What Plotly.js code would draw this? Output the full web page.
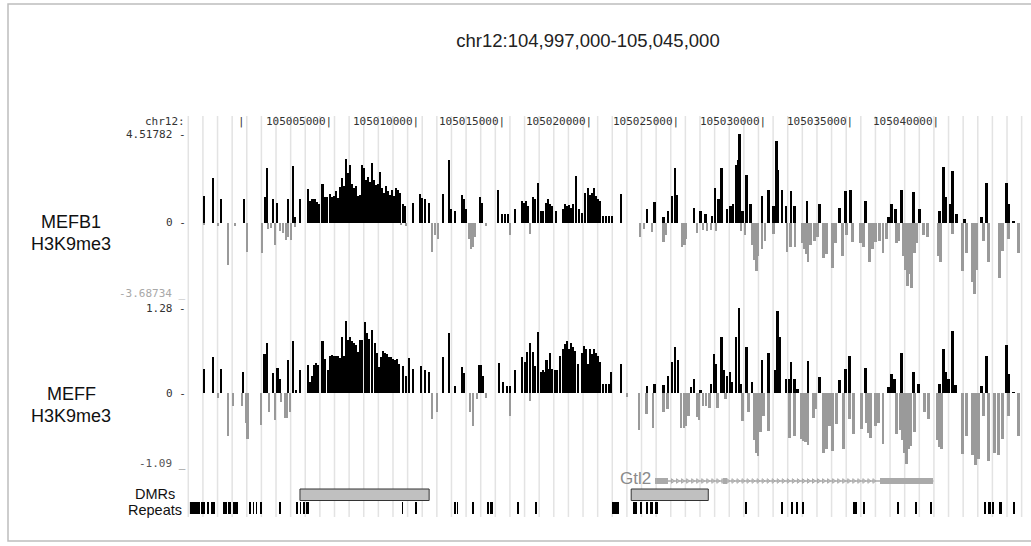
<!DOCTYPE html>
<html>
<head>
<meta charset="utf-8">
<script src="https://cdn.plot.ly/plotly-3.0.1.min.js"></script>
<style>html,body{margin:0;padding:0;background:#fff;}#chart{width:1031px;height:546px;}</style>
</head>
<body>
<div id="chart"></div>
<script>
// ---------- DATA (positions in kb offset from chr12:105,000,000) ----------
const regionTitle = "chr12:104,997,000-105,045,000";
const chromLabel = "chr12:";
const viewStartKb = -3, viewEndKb = 45;
const rulerKb = [0, 5, 10, 15, 20, 25, 30, 35, 40];

const mefb1Range = [-3.68734, 4.51782];
const meffRange = [-1.09, 1.28];

const mefb1PosKb = [-2.19,-1.67,-1.21,0.12,1.35,1.44,1.79,2.02,2.65,2.94,3.05,3.34,3.80,3.92,4.06,4.21,4.32,4.44,4.64,4.78,4.90,5.07,5.19,5.30,5.42,5.53,5.65,5.76,5.88,5.99,6.11,6.22,6.34,6.46,6.57,6.69,6.80,6.92,7.03,7.15,7.26,7.38,7.50,7.61,7.73,7.84,7.95,8.07,8.18,8.30,8.41,8.53,8.65,8.76,8.88,8.99,9.11,9.28,9.39,9.86,10.26,10.37,10.55,10.78,11.59,11.93,12.05,12.28,12.68,12.80,12.91,13.72,13.83,14.76,14.99,15.16,15.33,15.73,16.14,16.25,16.37,16.48,16.77,16.89,17.06,17.23,17.35,17.52,17.64,17.75,17.87,18.10,18.50,18.62,18.73,18.85,18.96,19.08,19.25,19.42,19.60,19.77,19.94,20.06,20.17,20.29,20.40,20.52,20.63,20.81,20.98,21.15,21.33,21.84,23.34,23.75,24.27,24.55,24.78,24.93,25.07,26.05,26.40,26.69,27.09,27.26,27.44,27.61,27.95,28.13,28.30,28.47,28.59,28.67,28.82,29.05,29.28,29.97,30.32,30.61,30.78,30.89,31.12,31.35,31.64,31.82,32.56,33.26,34.41,34.76,35.04,35.91,37.23,37.41,37.64,37.98,38.67,39.02,40.17,40.40,40.52,40.81,40.92,41.15,41.61,42.59,42.88,44.03,44.15,44.44];
const mefb1PosVal = [1.39,2.3,1.2,1.2,1.33,2.77,1.2,1.0,1.2,2.9,0.3,1.2,1.72,1.1,1.2,1.23,1.06,0.95,2.0,1.3,1.3,1.45,1.33,1.36,1.6,1.28,1.82,2.27,1.9,3.23,2.52,2.94,2.0,1.77,1.86,1.36,1.44,2.94,2.77,2.19,2.35,2.1,3.05,2.19,1.94,2.0,2.6,1.77,1.52,1.86,1.6,1.44,1.69,1.36,1.77,1.69,1.52,0.95,0.86,1.0,1.45,1.28,1.2,1.0,1.45,3.2,0.7,0.6,1.4,1.2,0.7,1.3,1.0,1.7,0.45,0.45,0.45,0.7,1.1,1.0,1.1,0.86,1.3,1.2,2.05,0.6,0.6,1.0,1.2,0.95,0.86,0.6,0.7,0.95,0.86,0.9,0.78,0.95,2.39,0.7,0.53,1.52,1.77,1.44,1.52,1.77,1.36,1.2,1.1,0.36,0.36,0.36,0.36,1.45,0.73,1.06,0.28,0.6,1.36,2.77,1.44,0.78,0.6,0.45,0.36,1.77,1.2,2.77,0.7,0.86,0.95,2.94,3.18,4.5,0.6,2.44,0.95,1.36,1.69,0.86,4.18,2.69,1.69,0.86,1.6,0.86,1.1,0.95,0.78,1.6,1.69,1.1,0.28,0.95,0.7,1.69,1.56,0.7,0.6,2.82,1.33,0.95,2.65,0.45,0.2,0.28,2.02,2.05,0.95,0.12];

const mefb1NegKb = [-2.19,-1.38,-0.81,-0.40,0.29,1.15,1.50,1.67,1.90,2.19,2.36,2.54,2.65,2.82,3.05,9.16,9.45,10.95,11.12,11.30,13.08,13.20,13.31,13.43,14.06,15.45,16.60,22.94,23.17,23.63,24.27,24.44,25.36,25.48,25.59,26.22,26.57,26.80,27.03,27.32,28.76,28.99,29.39,29.51,29.63,29.74,29.97,30.14,30.61,31.41,31.59,31.87,32.28,32.39,32.51,32.62,32.74,32.97,33.14,33.49,33.66,34.01,34.18,34.58,34.81,35.16,35.62,35.79,36.14,36.31,36.48,36.71,36.94,37.12,37.69,37.81,38.10,38.21,38.33,38.44,38.56,38.73,38.85,39.25,39.48,40.12,40.23,40.92,41.50,41.73,42.07,42.19,42.31,42.71,43.00,43.63,43.80,44.15,44.73];
const mefb1NegVal = [-0.1,-0.15,-2.12,-0.15,-1.46,-1.54,-0.3,-0.25,-1.1,-0.4,-0.5,-0.87,-0.7,-0.87,-0.2,-0.1,-0.15,-1.46,-0.6,-0.8,-0.8,-1.3,-1.2,-0.7,-0.15,-0.6,-0.55,-0.7,-0.3,-0.45,-0.96,-0.6,-1.2,-1.1,-0.8,-0.5,-0.35,-0.4,-0.35,-0.4,-0.4,-0.6,-1.1,-1.9,-2.45,-1.7,-1.3,-0.9,-0.55,-1.46,-1.2,-1.2,-1.0,-1.3,-1.6,-2.0,-1.1,-0.9,-0.7,-1.8,-1.6,-2.3,-1.0,-1.7,-0.6,-0.96,-1.0,-1.2,-2.0,-1.3,-0.96,-0.9,-1.5,-0.8,-1.0,-0.9,-1.7,-2.4,-3.2,-2.6,-3.3,-1.5,-1.0,-0.6,-0.7,-1.7,-2.0,-0.55,-2.45,-1.5,-3.0,-3.6,-2.4,-0.9,-2.0,-2.8,-1.4,-0.8,-1.5];

const meffPosKb = [-2.19,-1.67,-1.21,0.06,1.30,1.44,1.79,2.05,2.19,2.65,2.94,3.11,3.34,3.80,3.92,4.03,4.15,4.27,4.38,4.64,4.78,4.96,5.07,5.19,5.30,5.42,5.53,5.65,5.76,5.88,5.99,6.11,6.22,6.34,6.46,6.57,6.69,6.80,6.92,7.09,7.20,7.32,7.49,7.67,7.78,7.90,8.01,8.13,8.24,8.36,8.47,8.59,8.70,8.82,8.93,9.05,9.28,9.45,9.63,9.86,10.32,10.55,10.78,11.59,11.93,12.28,12.68,12.80,13.66,13.78,13.89,14.81,15.04,15.27,15.45,15.73,16.14,16.31,16.43,16.60,16.77,16.89,17.06,17.23,17.35,17.46,17.55,17.67,17.75,17.87,18.04,18.16,18.33,18.50,18.62,18.73,18.85,18.96,19.08,19.19,19.37,19.60,19.71,19.83,19.94,20.06,20.17,20.29,20.40,20.52,20.63,20.81,20.98,21.15,21.27,21.84,23.34,23.75,24.27,24.55,24.78,24.93,25.10,25.88,26.05,26.40,27.03,27.20,27.32,27.61,27.75,27.95,28.10,28.24,28.47,28.62,28.76,29.05,29.39,29.97,30.32,30.72,30.84,30.95,31.35,31.53,31.64,31.82,31.99,32.62,33.26,34.41,34.76,34.99,35.91,37.23,37.41,37.58,37.98,38.67,38.96,40.17,40.40,40.52,40.69,40.92,41.09,42.59,42.88,44.03,44.15,44.44];
const meffPosVal = [0.36,0.54,0.36,0.32,0.59,0.75,0.3,0.37,0.21,0.49,0.79,0.04,0.34,0.42,0.16,0.25,0.42,0.45,0.42,0.78,0.51,0.34,0.55,0.57,0.56,0.55,0.55,0.53,0.85,0.55,1.09,0.8,0.84,0.78,0.75,0.72,0.62,0.8,0.8,1.07,0.91,0.81,0.95,0.76,0.61,0.39,0.54,0.64,0.61,0.59,0.54,0.54,0.51,0.49,0.51,0.44,0.41,0.26,0.52,0.36,0.4,0.34,0.31,0.54,0.91,0.11,0.39,0.3,0.42,0.42,0.26,0.45,0.16,0.1,0.1,0.34,0.54,0.47,0.62,0.76,0.62,0.41,0.92,0.31,0.34,0.31,0.49,0.36,0.61,0.36,0.34,0.34,0.56,0.66,0.74,0.78,0.66,0.76,0.69,0.64,0.44,0.61,0.71,0.66,0.44,0.66,0.59,0.66,0.61,0.56,0.46,0.14,0.14,0.14,0.31,0.44,0.1,0.14,0.12,0.26,0.46,0.7,0.5,0.09,0.21,0.04,0.14,0.59,0.44,0.84,0.34,0.26,0.32,0.16,0.84,1.28,0.14,0.7,0.16,0.49,0.6,0.34,1.23,0.84,0.21,0.21,0.46,0.21,0.06,0.48,0.24,0.2,0.36,0.56,0.38,0.09,0.28,0.21,0.61,0.32,0.14,0.14,0.66,0.32,0.21,0.94,0.12,0.1,0.56,0.73,0.29,0.02];

const meffNegKb = [-1.38,-0.81,-0.52,0.0,0.23,0.32,1.10,1.56,1.90,2.25,2.48,2.59,2.77,10.95,11.24,13.14,13.31,13.54,14.06,15.45,16.60,22.19,22.88,23.29,23.69,24.27,24.50,25.30,25.45,25.59,25.71,26.22,26.33,26.57,26.74,26.92,27.38,27.84,28.82,29.17,29.51,29.63,29.74,29.86,30.03,30.32,31.53,31.82,32.22,32.33,32.45,32.62,32.91,33.08,33.49,33.66,33.83,34.01,34.24,34.64,34.99,35.22,35.68,35.97,36.08,36.20,36.48,36.66,36.94,37.69,37.93,38.04,38.16,38.27,38.39,38.50,38.73,39.31,39.54,40.06,40.17,40.29,41.50,41.73,42.07,42.25,42.42,42.71,43.00,43.34,43.57,43.80,44.15,44.73];
const meffNegVal = [-0.07,-0.65,-0.2,-0.2,-0.45,-0.69,-0.48,-0.29,-0.4,-0.14,-0.37,-0.37,-0.29,-0.39,-0.29,-0.29,-0.49,-0.09,-0.08,-0.34,-0.12,-0.06,-0.55,-0.32,-0.52,-0.28,-0.24,-0.52,-0.52,-0.5,-0.34,-0.36,-0.4,-0.19,-0.2,-0.22,-0.22,-0.09,-0.42,-0.29,-0.7,-0.9,-0.95,-0.59,-0.34,-0.57,-0.67,-0.64,-0.69,-0.72,-0.74,-0.79,-0.37,-0.24,-0.9,-0.85,-0.49,-0.87,-0.47,-0.84,-0.39,-0.62,-0.54,-0.45,-0.6,-0.67,-0.49,-0.45,-0.77,-0.62,-0.55,-0.7,-0.9,-1.07,-0.85,-0.8,-0.59,-0.29,-0.39,-0.7,-0.82,-0.84,-0.92,-0.64,-0.94,-1.09,-1.0,-0.34,-1.02,-0.9,-0.94,-0.69,-0.34,-0.64];

const dmrStartKb = [3.34, 22.42];
const dmrEndKb = [10.78, 26.86];

const geneName = "Gtl2";
const geneStartKb = 23.80, geneEndKb = 39.83;
const exonStartKb = [23.80, 27.72, 36.77];
const exonEndKb = [24.55, 27.95, 39.83];

const repStartKb = [-3.05,-2.36,-2.02,-1.79,-1.10,-0.81,-0.52,0.40,0.63,0.81,1.07,2.16,3.14,3.34,3.54,3.69,9.22,9.97,12.22,12.39,13.29,14.12,14.29,15.85,16.89,21.33,22.54,22.94,23.29,23.52,23.80,28.99,31.07,31.64,31.93,32.28,35.22,35.79,37.75,38.79,39.65,42.77,43.00,43.23,43.63,44.44];
const repEndKb = [-2.42,-2.13,-1.90,-1.56,-0.86,-0.63,-0.23,0.52,0.69,0.86,1.12,2.22,3.20,3.40,3.63,3.86,9.28,10.09,12.28,12.45,13.34,14.24,14.47,15.97,17.00,21.73,22.77,23.05,23.34,23.69,23.98,29.11,31.12,31.70,31.99,32.33,35.45,35.84,37.81,38.90,39.77,42.82,43.17,43.34,43.80,44.55];

// ---------- LAYOUT HELPERS ----------
const W = 1031, H = 546;
const px = x => x / W;
const py = y => 1 - y / H;
const BAR_W = 0.14;

const mono = {family: "DejaVu Sans Mono, monospace", size: 11, color: "#333"};
const sans = "Liberation Sans, Arial, sans-serif";

function barTrace(xs, ys, color, yaxis, width) {
  return {type: "bar", x: xs, y: ys, width: xs.map(() => width || BAR_W),
    marker: {color: color, line: {width: 0}}, xaxis: "x", yaxis: yaxis,
    hoverinfo: "skip", showlegend: false};
}
function rangeBar(starts, ends, base, height, color, lineColor, lineW, minW) {
  const xs = starts.map((s, i) => (s + ends[i]) / 2);
  const ws = starts.map((s, i) => Math.max(ends[i] - s, minW || 0));
  return {type: "bar", x: xs, y: xs.map(() => height), base: xs.map(() => base), width: ws,
    marker: {color: color, line: {color: lineColor || color, width: lineW || 0}},
    xaxis: "x", yaxis: "y3", hoverinfo: "skip", showlegend: false};
}

const traces = [
  barTrace(mefb1PosKb, mefb1PosVal, "#000", "y"),
  barTrace(mefb1NegKb, mefb1NegVal, "#9a9a9a", "y"),
  barTrace(meffPosKb, meffPosVal, "#000", "y2"),
  barTrace(meffNegKb, meffNegVal, "#9a9a9a", "y2"),
  // DMRs
  rangeBar(dmrStartKb, dmrEndKb, 19.5, 11.5, "#c0c0c0", "#333", 1),
  // Repeats
  rangeBar(repStartKb, repEndKb, 6, 12, "#000", "#000", 0, 0.1),
  // Gene intron line
  {type: "scatter", mode: "lines", x: [geneStartKb, geneEndKb], y: [39, 39],
   line: {color: "#aaa", width: 1.5}, xaxis: "x", yaxis: "y3", hoverinfo: "skip", showlegend: false},
  // Gene exons
  rangeBar(exonStartKb, exonEndKb, 36, 6, "#aaa", "#aaa", 0, 0.12)
];

// intron chevrons (decoration along the intron)
const chevX = [];
for (let k = exonEndKb[0] + 0.25; k < exonStartKb[2] - 0.1; k += 0.29) chevX.push(k);
traces.push({type: "scatter", mode: "markers", x: chevX, y: chevX.map(() => 39),
  marker: {symbol: "triangle-right-open", size: 4, color: "#aaa", line: {color: "#aaa", width: 1}},
  xaxis: "x", yaxis: "y3", hoverinfo: "skip", showlegend: false});

// guide lines & border
const shapes = [];
for (let k = 0; k <= 57; k++) {
  const gx = px(188.3 + 14.62 * k);
  shapes.push({type: "line", xref: "paper", yref: "paper", x0: gx, x1: gx, y0: py(517), y1: py(116),
    line: {color: "#e3e3e3", width: 1.5}, layer: "below"});
}
shapes.push({type: "rect", xref: "paper", yref: "paper", x0: px(8), x1: px(1034), y0: py(541), y1: py(4),
  line: {color: "#bdbdbd", width: 1.5}, layer: "below"});

const annotations = [];
// chrom label and ruler
annotations.push({xref: "paper", yref: "paper", x: px(187), y: py(122), xanchor: "right", yanchor: "middle",
  text: chromLabel, showarrow: false, font: mono});
rulerKb.forEach((kb, i) => {
  const label = i === 0 ? "|" : String(105000000 + kb * 1000) + "|";
  annotations.push({xref: "x", yref: "paper", x: kb, y: py(122), xanchor: "right", yanchor: "middle",
    xshift: 5, text: label, showarrow: false, font: mono});
});
// y labels
function ylab(yref, val, text, color, yshift) {
  annotations.push({xref: "paper", yref: yref, x: px(188), y: val, xanchor: "right", yanchor: "middle",
    yshift: yshift || 0, text: text, showarrow: false,
    font: {family: mono.family, size: 11, color: color || "#333"}});
}
ylab("y", mefb1Range[1], "4.51782 -");
ylab("y", 0, "0 -");
ylab("y", mefb1Range[0], "-3.68734 _", "#a8a8a8", 2);
ylab("y2", meffRange[1], "1.28 -");
ylab("y2", 0, "0 -");
ylab("y2", meffRange[0], "-1.09 _", "#555", 2);

// track names
function lab(x, y, text, size, color) {
  annotations.push({xref: "paper", yref: "paper", x: px(x), y: py(y), xanchor: "center", yanchor: "middle",
    text: text, showarrow: false, borderpad: 0, font: {family: sans, size: size, color: color || "#111"}});
}
lab(71, 222, "MEFB1", 18);
lab(71, 244, "H3K9me3", 18);
lab(71, 394, "MEFF", 18);
lab(71, 416, "H3K9me3", 18);
lab(155, 494, "DMRs", 14.5);
lab(155, 510, "Repeats", 14.5);
// gene name
annotations.push({xref: "x", yref: "y3", x: geneStartKb, y: 42, xanchor: "right", yanchor: "middle",
  xshift: -2, text: geneName, showarrow: false, font: {family: sans, size: 17, color: "#8a8a8a"}});

const hidden = {showgrid: false, zeroline: false, showticklabels: false, ticks: "", showline: false, fixedrange: true};

const layout = {
  width: W, height: H,
  margin: {l: 0, r: 0, t: 0, b: 0},
  paper_bgcolor: "#fff", plot_bgcolor: "rgba(0,0,0,0)",
  title: {text: regionTitle, x: px(588), y: py(41), xanchor: "center", yanchor: "middle",
    xref: "paper", yref: "paper", font: {family: sans, size: 18.5, color: "#222"}},
  barmode: "overlay", bargap: 0,
  showlegend: false,
  xaxis: Object.assign({domain: [px(189.9), px(1023.2)], range: [viewStartKb, viewEndKb]}, hidden),
  yaxis: Object.assign({domain: [py(295.6), py(134)], range: mefb1Range, anchor: "x"}, hidden),
  yaxis2: Object.assign({domain: [py(465.4), py(308)], range: meffRange, anchor: "x"}, hidden),
  yaxis3: Object.assign({domain: [py(520), py(475)], range: [0, 45], anchor: "x"}, hidden),
  shapes: shapes,
  annotations: annotations
};

Plotly.newPlot("chart", traces, layout, {displayModeBar: false, staticPlot: true});
</script>
</body>
</html>
